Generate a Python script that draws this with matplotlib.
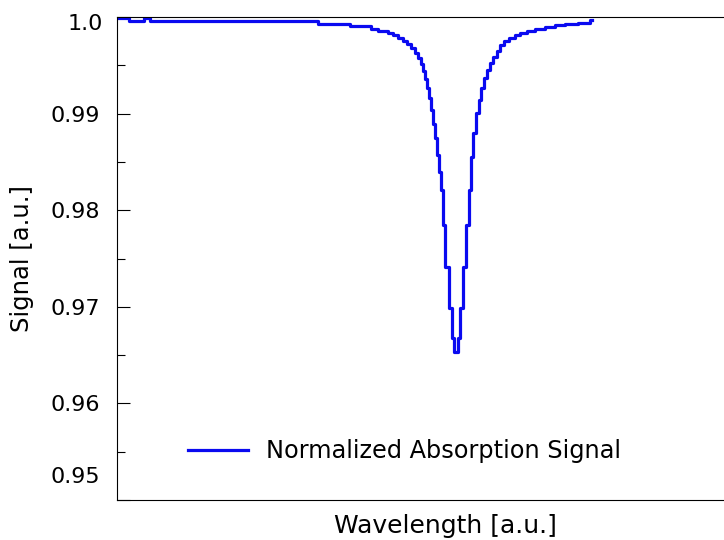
import numpy as np
import matplotlib
matplotlib.use("Agg")
import matplotlib.pyplot as plt
from matplotlib.ticker import FixedLocator

# step start positions (a.u.) and signal level held from each start
wavelength = [0, 12, 27, 33, 201, 233, 254, 261, 271, 276, 281, 286, 290, 294,
              298, 301, 304, 306, 308, 310, 312, 314, 316, 318, 320, 322, 324,
              326, 328, 331.5, 335, 337,
              341, 343, 346, 349, 352, 354, 356, 359, 362, 364, 367, 370, 373,
              376, 380, 383, 387, 392, 398, 403, 410, 418, 428, 438, 448, 461,
              473, 475]
signal = [0.99990, 0.99959, 0.99990, 0.99959, 0.99928, 0.99902, 0.99876,
          0.99855, 0.99834, 0.99814, 0.99783, 0.99752, 0.99720, 0.99679,
          0.99627, 0.99576, 0.99513, 0.99441, 0.99358, 0.99265, 0.99161,
          0.99037, 0.98892, 0.98747, 0.98571, 0.98395, 0.98209, 0.97847,
          0.97412, 0.96988, 0.96677, 0.96532,
          0.96677, 0.96988, 0.97412, 0.97847, 0.98209, 0.98551, 0.98799,
          0.99006, 0.99141, 0.99265, 0.99369, 0.99451, 0.99524, 0.99586,
          0.99648, 0.99710, 0.99752, 0.99783, 0.99814, 0.99834, 0.99855,
          0.99876, 0.99896, 0.99917, 0.99928, 0.99938, 0.99969, 0.99969]

major = [0.95, 0.96, 0.97, 0.98, 0.99, 1.0]
minor = [0.955, 0.965, 0.975, 0.985, 0.995]
inner_labels = ["", "0.96", "0.97", "0.98", "0.99", ""]

fig = plt.figure(figsize=(7.24, 5.4), dpi=100)
# the plot frame runs past the right edge of the picture
ax = fig.add_axes([117/724, 40/540, 656/724, 483/540])

ax.plot(wavelength, signal, drawstyle="steps-post", color="#0a0af0",
        lw=2.3, label="Normalized Absorption Signal")

ax.set_xlim(0, 656)
ax.set_ylim(0.95, 1.0)
ax.set_xticks([])
ax.yaxis.set_major_locator(FixedLocator(major))
ax.yaxis.set_minor_locator(FixedLocator(minor))
ax.set_yticklabels(inner_labels)
ax.tick_params(axis="y", which="major", direction="in", length=9.4,
               width=0.8, labelsize=16, pad=12)
ax.tick_params(axis="y", which="minor", direction="in", length=5.8, width=0.8)
ax.spines["right"].set_visible(False)

# end labels sit inside the range, as in the original
ax.annotate("1.0", xy=(0, 1.0), xycoords=("axes fraction", "data"),
            xytext=(-14, -7.5), textcoords="offset pixels",
            ha="right", va="center", fontsize=16)
ax.annotate("0.95", xy=(0, 0.95), xycoords=("axes fraction", "data"),
            xytext=(-17, 23), textcoords="offset pixels",
            ha="right", va="center", fontsize=16)

ax.set_xlabel("Wavelength [a.u.]", fontsize=18, labelpad=10)
ax.set_ylabel("Signal [a.u.]", fontsize=17.5, labelpad=12)

ax.legend(loc="center left", bbox_to_anchor=(71/656, 0.1014), frameon=False,
          fontsize=17.3, handlelength=2.5, handletextpad=0.75,
          borderaxespad=0, borderpad=0)

fig.savefig("out.png", dpi=100)
